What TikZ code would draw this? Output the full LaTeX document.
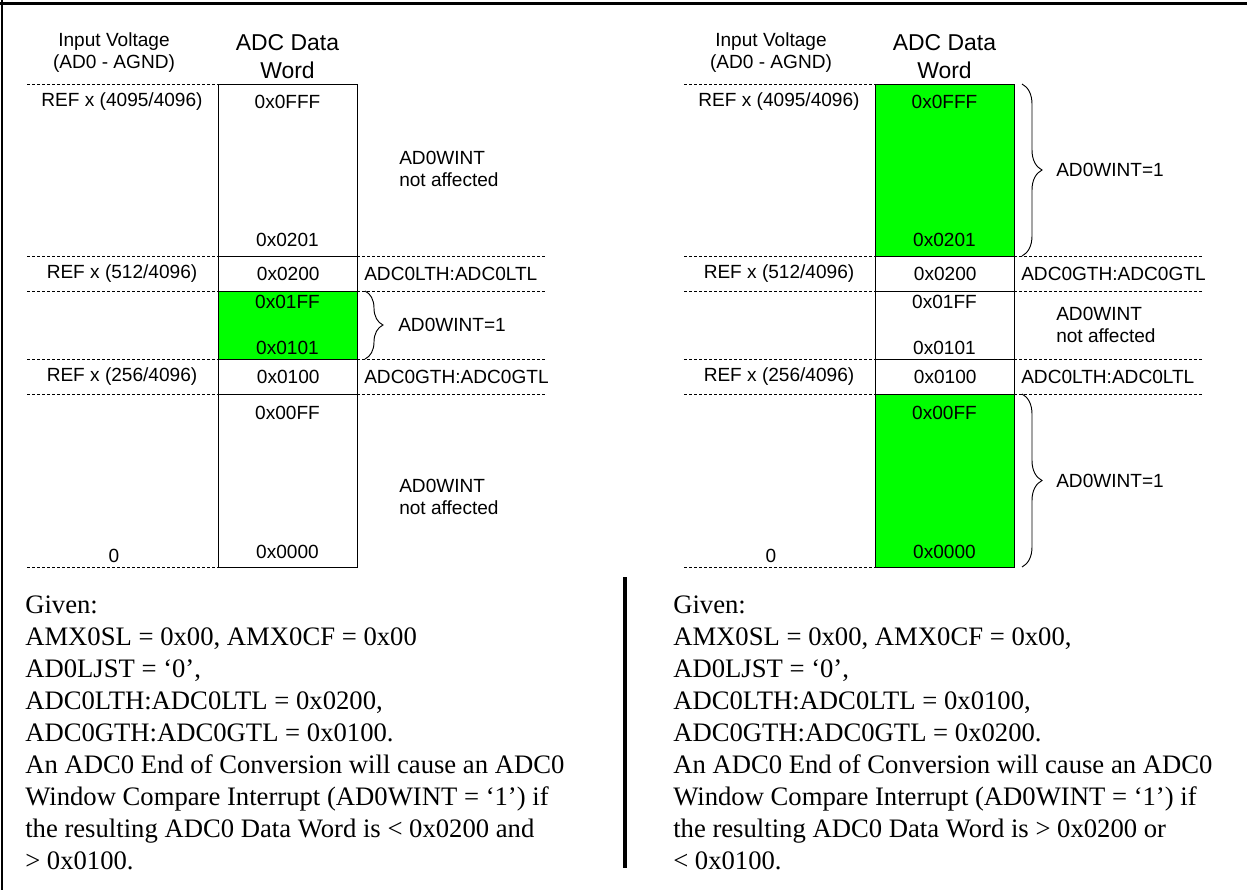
\documentclass[tikz,border=0pt]{standalone}
\usepackage{fontspec}
\setmainfont{Liberation Serif}
\setsansfont{Liberation Sans}
\usetikzlibrary{decorations.pathreplacing}
\definecolor{wingreen}{RGB}{0,255,0}
\begin{document}
\begin{tikzpicture}[x=0.75pt,y=-0.75pt,
  lbl/.style={font=\sffamily\fontsize{14.3}{16.5}\selectfont, inner sep=0pt, align=center},
  hdr/.style={font=\sffamily\fontsize{17.2}{21}\selectfont, inner sep=0pt, align=center},
  note/.style={lbl, align=left, anchor=west},
  guide/.style={dash pattern=on 2.25pt off 1.5pt, line width=0.7pt},
  cellbox/.style={draw, line width=1.1pt, minimum width=104.25pt, inner sep=0pt, anchor=north west, font=\sffamily\fontsize{14.3}{16.5}\selectfont},
  greencell/.style={cellbox, fill=wingreen},
  brc/.style={decorate, decoration={brace, amplitude=#1}, line width=0.7pt},
  given/.style={font=\rmfamily\fontsize{20}{24}\selectfont, inner sep=0pt, anchor=base west},
  frameline/.style={line width=#1}
]
\useasboundingbox (0,0) rectangle (1247,890);
\fill[white] (0,0) rectangle (1247,890);

% outer frame and divider
\coordinate (FTL) at (0,3); \coordinate (FTR) at (1247,3);
\coordinate (FLT) at (1.7,0); \coordinate (FLB) at (1.7,890);
\coordinate (DT) at (625,577); \coordinate (DB) at (625,868);
\draw[frameline=2.25pt] (FTL) -- (FTR);
\draw[frameline=1.5pt] (FLT) -- (FLB);
\draw[frameline=2.4pt] (DT) -- (DB);

% ================= LEFT PANEL =================
\foreach \y in {84,256,291,359,394,567} \draw[guide] (27,\y) -- (218,\y);
\foreach \y in {256,291,359,394} \draw[guide] (357,\y) -- (547,\y);

\node[lbl] (LhIn) at (114,53) {Input Voltage\\(AD0 - AGND)};
\node[hdr] (LhAdc) at (287.5,57) {ADC Data\\Word};

\node[cellbox, minimum height=129pt] (L1) at (218,84) {};
\node[cellbox, minimum height=26.25pt] (L2) at (218,256) {0x0200};
\node[greencell, minimum height=51pt] (L3) at (218,291) {};
\node[cellbox, minimum height=26.25pt] (L4) at (218,359) {0x0100};
\node[cellbox, minimum height=129.75pt] (L5) at (218,394) {};

\node[lbl] (L1t) at (287.5,102) {0x0FFF};
\node[lbl] (L1b) at (287.5,240) {0x0201};
\node[lbl] (L3t) at (287.5,302) {0x01FF};
\node[lbl] (L3b) at (287.5,348) {0x0101};
\node[lbl] (L5t) at (287.5,413) {0x00FF};
\node[lbl] (L5b) at (287.5,552) {0x0000};

\node[lbl] (Lr1) at (122,102) {REF x (4095/4096)};
\node[lbl] (Lr2) at (122,273.5) {REF x (512/4096)};
\node[lbl] (Lr3) at (122,376.5) {REF x (256/4096)};
\node[lbl] (Lr4) at (114,556) {0};

\node[note] (Ln1) at (399,169) {AD0WINT\\not affected};
\node[lbl, anchor=west] (Lth1) at (364,273.5) {ADC0LTH:ADC0LTL};
\node[lbl, anchor=west] (Lw1) at (398,325) {AD0WINT=1};
\node[lbl, anchor=west] (Lth2) at (364,376.5) {ADC0GTH:ADC0GTL};
\node[note] (Ln2) at (399,496.5) {AD0WINT\\not affected};

\coordinate (LbA) at (365,291); \coordinate (LbB) at (365,359);
\draw[brc=13.5pt] (LbA) -- (LbB);

% ================= RIGHT PANEL =================
\foreach \y in {84,256,291,359,394,567} \draw[guide] (684,\y) -- (875,\y);
\foreach \y in {256,291,359,394} \draw[guide] (1014,\y) -- (1204,\y);

\node[lbl] (RhIn) at (771,53) {Input Voltage\\(AD0 - AGND)};
\node[hdr] (RhAdc) at (944.5,57) {ADC Data\\Word};

\node[greencell, minimum height=129pt] (R1) at (875,84) {};
\node[cellbox, minimum height=26.25pt] (R2) at (875,256) {0x0200};
\node[cellbox, minimum height=51pt] (R3) at (875,291) {};
\node[cellbox, minimum height=26.25pt] (R4) at (875,359) {0x0100};
\node[greencell, minimum height=129.75pt] (R5) at (875,394) {};

\node[lbl] (R1t) at (944.5,102) {0x0FFF};
\node[lbl] (R1b) at (944.5,240) {0x0201};
\node[lbl] (R3t) at (944.5,302) {0x01FF};
\node[lbl] (R3b) at (944.5,348) {0x0101};
\node[lbl] (R5t) at (944.5,413) {0x00FF};
\node[lbl] (R5b) at (944.5,552) {0x0000};

\node[lbl] (Rr1) at (779,102) {REF x (4095/4096)};
\node[lbl] (Rr2) at (779,273.5) {REF x (512/4096)};
\node[lbl] (Rr3) at (779,376.5) {REF x (256/4096)};
\node[lbl] (Rr4) at (771,556) {0};

\node[lbl, anchor=west] (Rw1) at (1056,170) {AD0WINT=1};
\node[lbl, anchor=west] (Rth1) at (1021,273.5) {ADC0GTH:ADC0GTL};
\node[note] (Rn1) at (1056,325) {AD0WINT\\not affected};
\node[lbl, anchor=west] (Rth2) at (1021,376.5) {ADC0LTH:ADC0LTL};
\node[lbl, anchor=west] (Rw2) at (1056,481) {AD0WINT=1};

\coordinate (RbA) at (1022,84); \coordinate (RbB) at (1022,256);
\draw[brc=15pt] (RbA) -- (RbB);
\coordinate (RbC) at (1022,394); \coordinate (RbD) at (1022,567);
\draw[brc=15pt] (RbC) -- (RbD);

% ================= GIVEN TEXTS =================
\foreach \t [count=\i from 0] in {Given:, {AMX0SL = 0x00, AMX0CF = 0x00}, {AD0LJST = ‘0’,}, {ADC0LTH:ADC0LTL = 0x0200,}, ADC0GTH:ADC0GTL = 0x0100., An ADC0 End of Conversion will cause an ADC0, Window Compare Interrupt (AD0WINT = ‘1’) if, the resulting ADC0 Data Word is < 0x0200 and, > 0x0100.}
  \node[given] (GL\i) at (25,613+32*\i) {\t};
\foreach \t [count=\i from 0] in {Given:, {AMX0SL = 0x00, AMX0CF = 0x00,}, {AD0LJST = ‘0’,}, {ADC0LTH:ADC0LTL = 0x0100,}, ADC0GTH:ADC0GTL = 0x0200., An ADC0 End of Conversion will cause an ADC0, Window Compare Interrupt (AD0WINT = ‘1’) if, the resulting ADC0 Data Word is > 0x0200 or, < 0x0100.}
  \node[given] (GR\i) at (673,613+32*\i) {\t};
\end{tikzpicture}
\end{document}
